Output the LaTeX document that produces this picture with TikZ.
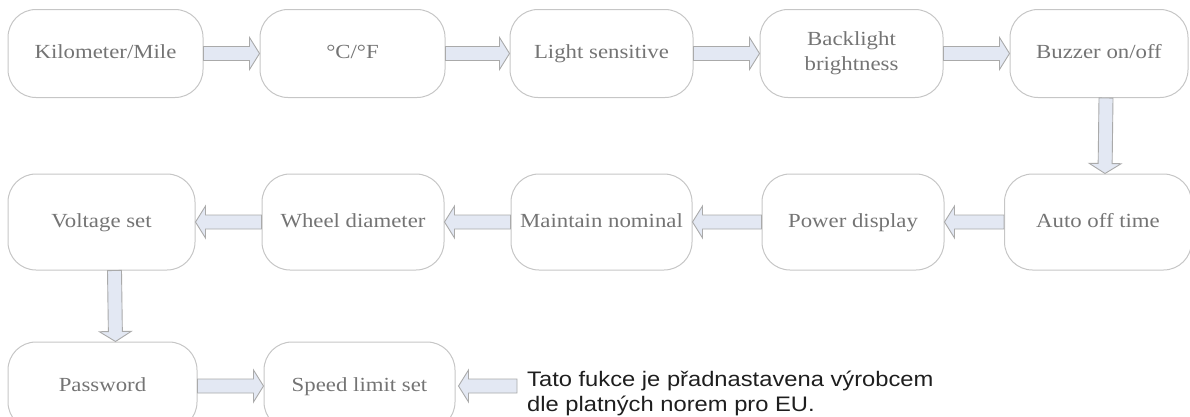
\documentclass[tikz,border=0pt]{standalone}
\usepackage{fontspec}
\setmainfont[FakeStretch=1.14]{Liberation Serif}
\newfontfamily\notefont[FakeStretch=1.13]{Liberation Sans}
\usetikzlibrary{arrows.meta,calc}
\definecolor{boxline}{HTML}{C6C6C6}
\definecolor{boxtext}{HTML}{747474}
\definecolor{arrline}{HTML}{AAAAAA}
\definecolor{arrfill}{HTML}{E3E8F3}
\definecolor{notetext}{HTML}{1E1E1E}
\begin{document}
\begin{tikzpicture}[x=1pt,y=-1pt,
  stepbox/.style={draw=boxline, line width=1pt, rounded corners=28pt,
    minimum height=88pt, inner sep=0pt, font=\fontsize{20}{25}\selectfont,
    text=boxtext, align=center, text height=14pt, text depth=4pt},
  twoline/.style={text height={}, text depth={}},
  barrow/.style={draw=arrline, fill=arrfill, line width=0.9pt,
    to path={let \p1=($(\tikztotarget)-(\tikztostart)$),
      \n1={veclen(\x1,\y1)}, \n2={atan2(\y1,\x1)} in
      {[shift={(\tikztostart)}, rotate=\n2]
      (0,-7) -- ({\n1-10},-7) -- ({\n1-10},-16) -- (\n1,0)
      -- ({\n1-10},16) -- ({\n1-10},7) -- (0,7) -- cycle}}}]
\useasboundingbox (0,0) rectangle (1190,416);
\clip (0,0) rectangle (1190,416);
% row 1
\node[stepbox, minimum width=195pt] (b1) at (105.5,53.5) {Kilometer/Mile};
\node[stepbox, minimum width=185pt] (b2) at (352.5,53.5) {°C/°F};
\node[stepbox, minimum width=183pt] (b3) at (601.5,53.5) {Light sensitive};
\node[stepbox, twoline, minimum width=183pt] (b4) at (851.5,53.5) {Backlight\\brightness};
\node[stepbox, minimum width=178pt] (b5) at (1099,53.5) {Buzzer on/off};
% row 2
\node[stepbox, minimum width=187pt, minimum height=96pt] (b10) at (1098,222) {Auto off time};
\node[stepbox, minimum width=182pt, minimum height=96pt] (b9) at (853,222) {Power display};
\node[stepbox, minimum width=181pt, minimum height=96pt] (b8) at (601.5,222) {Maintain nominal};
\node[stepbox, minimum width=182pt, minimum height=96pt] (b7) at (353,222) {Wheel diameter};
\node[stepbox, minimum width=187pt, minimum height=96pt] (b6) at (101.5,222) {Voltage set};
% row 3
\node[stepbox, minimum width=189pt] (b11) at (102.5,386) {Password};
\node[stepbox, minimum width=191pt] (b12) at (359.5,386) {Speed limit set};
% note
\node[font=\notefont\fontsize{21}{24.5}\selectfont, text=notetext, align=left,
  anchor=north west, inner sep=0pt] (note) at (527,371)
  {Tato fukce je přadnastavena výrobcem\\dle platných norem pro EU.};
% connectors
\draw[barrow] (b1.east) to (b2.west);
\draw[barrow] (b2.east) to (b3.west);
\draw[barrow] (b3.east) to (b4.west);
\draw[barrow] (b4.east) to (b5.west);
\draw[barrow] ([xshift=7pt]b5.south) to ([xshift=7pt]b10.north);
\draw[barrow] (b10.west) to (b9.east);
\draw[barrow] (b9.west) to (b8.east);
\draw[barrow] (b8.west) to (b7.east);
\draw[barrow] (b7.west) to (b6.east);
\draw[barrow] ([xshift=13pt]b6.south) to ([xshift=13pt]b11.north);
\draw[barrow] (b11.east) to (b12.west);
\draw[barrow] ([xshift=-10pt]note.west |- b12.east) to ([xshift=3pt]b12.east);
\end{tikzpicture}
\end{document}
